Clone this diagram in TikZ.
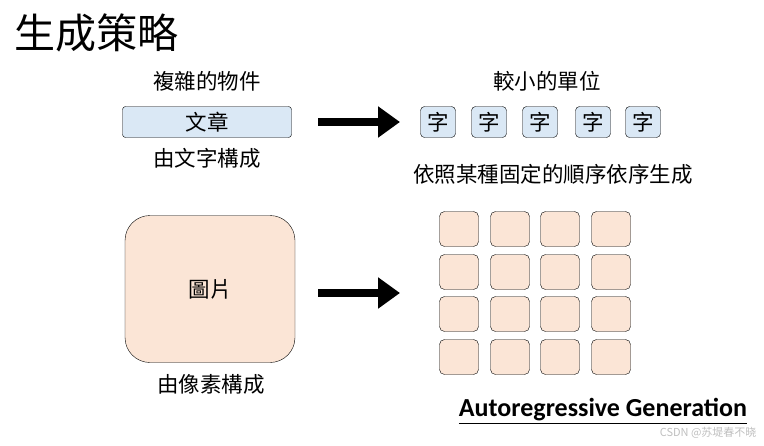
\documentclass[tikz,border=0pt]{standalone}
\usepackage{fontspec}
\setmainfont{Carlito}
\newfontfamily\cjk{Noto Sans CJK TC}
\usetikzlibrary{positioning,arrows.meta}
\definecolor{boxblue}{HTML}{DAE8F5}
\definecolor{peach}{HTML}{FBE5D6}
\begin{document}
\begin{tikzpicture}[x=1pt,y=-1pt,
  txt/.style = {font=\cjk\fontsize{21.5}{23}\selectfont},
  word/.style = {draw, rounded corners=4pt, fill=boxblue, minimum width=35pt, minimum height=31pt, inner sep=0pt, txt},
  pix/.style = {draw, rounded corners=5pt, fill=peach, minimum width=39pt, minimum height=35pt},
  big/.style = {line width=8pt, -{Triangle[length=22pt,width=30pt]}}]
\useasboundingbox (0,0) rectangle (764,445);
\node[anchor=west, font=\cjk\fontsize{41}{43}\selectfont, inner sep=0pt] (title) at (14,33) {生成策略};
% text side
\node[txt] (obj) at (207,81) {複雜的物件};
\node[draw, rounded corners=3pt, fill=boxblue, minimum width=169pt, minimum height=31pt, inner sep=0pt, txt] (doc) at (207,122) {文章};
\node[txt] (made) at (207,158) {由文字構成};
\node[txt] (unit) at (547,81) {較小的單位};
\foreach \x [count=\i] in {438,489,540,593,643}
  \node[word] (w\i) at (\x,122) {字};
\node[txt] (order) at (553,174) {依照某種固定的順序依序生成};
\coordinate (a1) at (318,122);
\coordinate (b1) at (400,122);
\draw[big] (a1) -- (b1);
% image side
\node[draw, rounded corners=25pt, fill=peach, minimum width=170pt, minimum height=147pt, txt] (img) at (210,289) {圖片};
\node[txt] (pixels) at (211,384) {由像素構成};
\coordinate (a2) at (318,293);
\coordinate (b2) at (400,293);
\draw[big] (a2) -- (b2);
\foreach \y [count=\j] in {229,272,314,357}
  \foreach \x [count=\i] in {459,510,560,611}
    \node[pix] (p\j\i) at (\x,\y) {};
\node[font=\bfseries\fontsize{26}{28}\selectfont, inner sep=1pt] (ar) at (603,411) {\underline{Autoregressive Generation}};
\node[anchor=east, text=black!25, font=\cjk\fontsize{11}{12}\selectfont] (mark) at (760,433) {CSDN @苏堤春不晓};
\end{tikzpicture}
\end{document}
